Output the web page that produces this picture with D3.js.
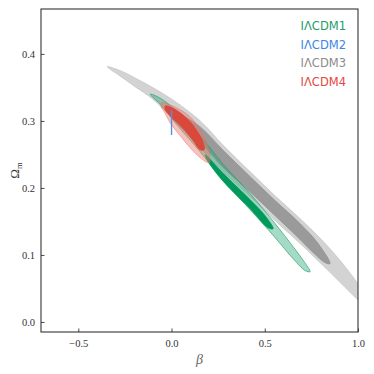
<!DOCTYPE html>
<html>
<head>
<meta charset="utf-8">
<script src="https://cdn.jsdelivr.net/npm/d3@7"></script>
<style>
  body { margin: 0; background: #fff; }
  svg { display: block; }
</style>
</head>
<body>
<svg id="chart" width="374" height="374"></svg>
<script>
// contour outlines, as [beta, Omega_m]
var lcdm3Outer = [[-0.345,0.381],[-0.275,0.375],[-0.168,0.360],[-0.007,0.334],[0.154,0.300],[0.279,0.263],
  [0.422,0.224],[0.556,0.188],[0.690,0.154],[0.824,0.117],[0.931,0.0825],[1.000,0.057],[1.076,0.030],
  [1.129,0.012],[1.076,0.0154],[1.000,0.033],[0.850,0.074],[0.690,0.117],[0.556,0.151],[0.422,0.187],
  [0.279,0.223],[0.154,0.260],[0.020,0.299],[-0.103,0.333],[-0.195,0.351],[-0.286,0.369],[-0.329,0.377]];
var lcdm3Inner = [[0.004,0.3165],[0.073,0.306],[0.154,0.291],[0.279,0.2555],[0.422,0.2166],[0.556,0.181],
  [0.690,0.1466],[0.786,0.117],[0.850,0.087],[0.824,0.0885],[0.743,0.108],[0.690,0.123],[0.556,0.1585],
  [0.422,0.194],[0.279,0.230],[0.154,0.269],[0.073,0.290],[0.020,0.306]];
var lcdm1Outer = [[-0.114,0.340],[-0.061,0.334],[0.020,0.3165],[0.154,0.2777],[0.279,0.2345],[0.422,0.1913],
  [0.556,0.1466],[0.652,0.1123],[0.711,0.090],[0.743,0.075],[0.717,0.0765],[0.652,0.0944],[0.556,0.1257],
  [0.422,0.1674],[0.279,0.2107],[0.154,0.2539],[0.020,0.2971],[-0.061,0.3254],[-0.098,0.3344]];
var lcdm1Inner = [[0.181,0.2494],[0.279,0.2211],[0.422,0.1824],[0.502,0.1585],[0.545,0.1391],
  [0.518,0.1406],[0.422,0.1689],[0.279,0.2092],[0.197,0.239]];
var lcdm4Outer = [[-0.055,0.327],[-0.007,0.3239],[0.047,0.3165],[0.100,0.306],[0.154,0.2867],[0.186,0.2688],
  [0.202,0.2539],[0.202,0.2375],[0.154,0.2449],[0.100,0.2598],[0.047,0.2777],[-0.007,0.297],[-0.039,0.3135],
  [-0.055,0.321]];
var lcdm4Inner = [[-0.033,0.3224],[0.004,0.3195],[0.047,0.312],[0.100,0.2986],[0.143,0.2822],[0.170,0.2673],
  [0.175,0.2569],[0.154,0.2569],[0.116,0.2703],[0.073,0.2852],[0.025,0.2986],[-0.012,0.309],[-0.033,0.3165]];
// model 2 has beta fixed at 0: a vertical segment
var lcdm2Line = [[0,0.279],[0,0.316]];

var legendNames = ["I\u039BCDM1", "I\u039BCDM2", "I\u039BCDM3", "I\u039BCDM4"];
var legendColors = ["#1e9c6c", "#3a86e8", "#8c8c8c", "#e0493c"];
var xTicks = [-0.5, 0.0, 0.5, 1.0];
var yTicks = [0.0, 0.1, 0.2, 0.3, 0.4];

var margin = {left: 41, top: 9, right: 16, bottom: 42};
var width = 374 - margin.left - margin.right;
var height = 374 - margin.top - margin.bottom;

var x = d3.scaleLinear().domain([-0.7, 1.0]).range([0, width]);
var y = d3.scaleLinear().domain([-0.015, 0.467]).range([height, 0]);

var svg = d3.select("#chart");
svg.append("defs").append("clipPath").attr("id", "plotclip")
  .append("rect").attr("width", width).attr("height", height);

var g = svg.append("g").attr("transform", "translate(" + margin.left + "," + margin.top + ")");
var plot = g.append("g").attr("clip-path", "url(#plotclip)");

var line = d3.line()
  .x(function(d) { return x(d[0]); })
  .y(function(d) { return y(d[1]); })
  .curve(d3.curveCatmullRomClosed.alpha(0.5));

//draw contours back to front
var layers = [
  {data: lcdm3Outer, fill: "#d3d3d3", stroke: "#c6c6c6"},
  {data: lcdm3Inner, fill: "#9a9a9a", stroke: "#909090"},
  {data: lcdm1Outer, fill: "rgba(40,170,120,0.42)", stroke: "rgba(30,155,105,0.8)"},
  {data: lcdm1Inner, fill: "#00995c", stroke: "#00995c"},
  {data: lcdm4Outer, fill: "rgba(238,120,108,0.45)", stroke: "rgba(230,110,100,0.6)"},
  {data: lcdm4Inner, fill: "#d9483a", stroke: "#d9483a"}
];

plot.selectAll("path.contour")
  .data(layers)
  .enter()
  .append("path")
    .attr("class", "contour")
    .attr("d", function(d) { return line(d.data); })
    .attr("fill", function(d) { return d.fill; })
    .attr("stroke", function(d) { return d.stroke; })
    .attr("stroke-width", 0.8);

plot.append("path")
  .attr("d", d3.line().x(function(d) { return x(d[0]); }).y(function(d) { return y(d[1]); })(lcdm2Line))
  .attr("stroke", "#5a8fe6")
  .attr("stroke-width", 1.4)
  .attr("fill", "none");

// axes with inward ticks
var fmt = function(v) { return d3.format(".1f")(v).replace("-", "\u2212"); };

var xAxis = g.append("g").attr("transform", "translate(0," + height + ")")
  .call(d3.axisBottom(x).tickValues(xTicks).tickSize(-3.5).tickPadding(8).tickFormat(fmt));
var yAxis = g.append("g")
  .call(d3.axisLeft(y).tickValues(yTicks).tickSize(-3.5).tickPadding(6).tickFormat(fmt));

[xAxis, yAxis].forEach(function(a) {
  a.select(".domain").remove();
  a.selectAll(".tick line").attr("stroke", "#333").attr("stroke-width", 0.9);
  a.selectAll(".tick text")
    .attr("font-family", "'Liberation Serif', serif")
    .attr("font-size", 10.5)
    .attr("fill", "#333");
});

g.append("rect")
  .attr("width", width).attr("height", height)
  .attr("fill", "none").attr("stroke", "#333").attr("stroke-width", 1.1);

// axis labels
g.append("text")
  .attr("x", width / 2).attr("y", height + 32)
  .attr("text-anchor", "middle")
  .attr("font-family", "'Liberation Serif', serif").attr("font-style", "italic")
  .attr("font-size", 14).attr("fill", "#666")
  .text("\u03B2");

var ylab = g.append("text")
  .attr("transform", "translate(-22," + (height / 2) + ") rotate(-90)")
  .attr("text-anchor", "middle")
  .attr("font-family", "'Liberation Serif', serif")
  .attr("font-size", 13).attr("fill", "#333");
ylab.append("tspan").text("\u03A9");
ylab.append("tspan").attr("font-size", 8.5).attr("dy", 3).text("m");

// legend
g.selectAll("text.legend")
  .data(legendNames)
  .enter()
  .append("text")
    .attr("class", "legend")
    .attr("x", width - 12)
    .attr("y", function(d, i) { return 21 + i * 18.5; })
    .attr("text-anchor", "end")
    .attr("font-family", "'DejaVu Sans', sans-serif")
    .attr("font-size", 11.5)
    .attr("fill", function(d, i) { return legendColors[i]; })
    .text(function(d) { return d; });
</script>
</body>
</html>
